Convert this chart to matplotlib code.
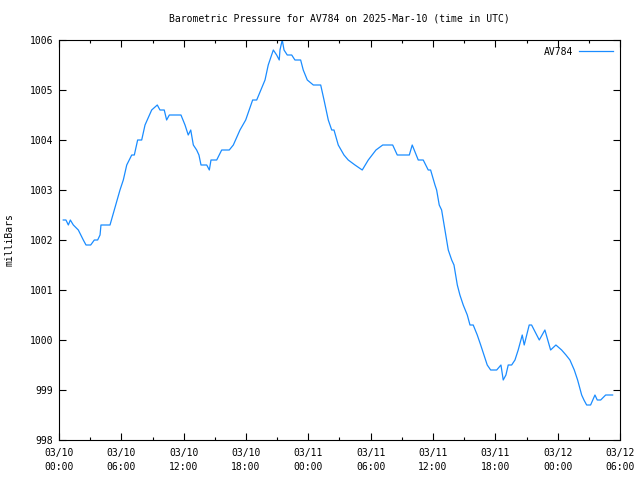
import matplotlib
matplotlib.use("Agg")
import matplotlib.pyplot as plt
from matplotlib.ticker import MultipleLocator

# hours since 2025-03-10 00:00 UTC
hours = [0.41, 0.67, 0.90, 1.09, 1.38, 1.86, 2.34, 2.60, 3.05, 3.40, 3.72, 3.95, 4.04, 4.91,
         5.32, 5.87, 6.19, 6.52, 7.00, 7.25, 7.57, 7.96, 8.28, 8.92, 9.46, 9.72, 10.13, 10.36,
         10.62, 11.74, 12.13, 12.44, 12.68, 12.93, 13.25, 13.47, 13.67, 14.22, 14.47, 14.63,
         15.18, 15.66, 16.39, 16.78, 17.42, 17.97, 18.64, 19.03, 19.83, 20.14, 20.63, 20.95,
         21.20, 21.27, 21.49, 21.66, 21.97, 22.40, 22.71, 23.26, 23.51, 23.90, 24.48, 25.19,
         25.51, 25.92, 26.25, 26.47, 26.88, 27.43, 27.84, 28.49, 29.19, 29.77, 30.51, 31.16,
         32.12, 32.56, 33.72, 34.00, 34.58, 35.06, 35.54, 35.77, 36.19, 36.35, 36.60, 36.83,
         37.15, 37.47, 37.80, 38.02, 38.34, 38.59, 38.91, 39.30, 39.56, 39.87, 40.26, 40.59,
         40.90, 41.22, 41.55, 42.13, 42.54, 42.76, 43.02, 43.24, 43.57, 43.89, 44.20, 44.59,
         44.78, 45.26, 45.49, 46.23, 46.77, 47.32, 47.83, 48.38, 48.80, 49.18, 49.60, 49.92,
         50.31, 50.53, 50.79, 51.17, 51.59, 51.81, 52.14, 52.62, 53.29]
pressure = [1002.4, 1002.4, 1002.3, 1002.4, 1002.3, 1002.2, 1002.0, 1001.9, 1001.9, 1002.0,
            1002.0, 1002.1, 1002.3, 1002.3, 1002.6, 1003.0, 1003.2, 1003.5, 1003.7, 1003.7,
            1004.0, 1004.0, 1004.3, 1004.6, 1004.7, 1004.6, 1004.6, 1004.4, 1004.5, 1004.5,
            1004.3, 1004.1, 1004.2, 1003.9, 1003.8, 1003.7, 1003.5, 1003.5, 1003.4, 1003.6,
            1003.6, 1003.8, 1003.8, 1003.9, 1004.2, 1004.4, 1004.8, 1004.8, 1005.2, 1005.5,
            1005.8, 1005.7, 1005.6, 1005.8, 1006.0, 1005.8, 1005.7, 1005.7, 1005.6, 1005.6,
            1005.4, 1005.2, 1005.1, 1005.1, 1004.8, 1004.4, 1004.2, 1004.2, 1003.9, 1003.7,
            1003.6, 1003.5, 1003.4, 1003.6, 1003.8, 1003.9, 1003.9, 1003.7, 1003.7, 1003.9,
            1003.6, 1003.6, 1003.4, 1003.4, 1003.1, 1003.0, 1002.7, 1002.6, 1002.2, 1001.8,
            1001.6, 1001.5, 1001.1, 1000.9, 1000.7, 1000.5, 1000.3, 1000.3, 1000.1, 999.9,
            999.7, 999.5, 999.4, 999.4, 999.5, 999.2, 999.3, 999.5, 999.5, 999.6, 999.8,
            1000.1, 999.9, 1000.3, 1000.3, 1000.0, 1000.2, 999.8, 999.9, 999.8, 999.7, 999.6,
            999.4, 999.2, 998.9, 998.8, 998.7, 998.7, 998.9, 998.8, 998.8, 998.9, 998.9]

tick_hours = [0, 6, 12, 18, 24, 30, 36, 42, 48, 54]
tick_labels = ["03/10\n00:00", "03/10\n06:00", "03/10\n12:00", "03/10\n18:00",
               "03/11\n00:00", "03/11\n06:00", "03/11\n12:00", "03/11\n18:00",
               "03/12\n00:00", "03/12\n06:00"]

plt.rcParams["font.family"] = "DejaVu Sans Mono"
plt.rcParams["font.size"] = 7

fig = plt.figure(figsize=(6.4, 4.8), dpi=100)
ax = fig.add_axes([59 / 640, 40 / 480, 561 / 640, 400 / 480])

ax.plot(hours, pressure, color="#1a8cff", linewidth=0.9, label="AV784")

ax.set_xlim(0, 54)
ax.set_ylim(998, 1006)
ax.set_xticks(tick_hours)
ax.set_xticklabels(tick_labels, linespacing=1.5)
ax.xaxis.set_minor_locator(MultipleLocator(3))
ax.yaxis.set_major_locator(MultipleLocator(1))
ax.tick_params(which="both", direction="in", top=True, right=True, width=0.8)
ax.tick_params(which="major", length=5)
ax.tick_params(axis="x", which="major", pad=6)
ax.tick_params(axis="y", which="major", pad=4)
ax.tick_params(which="minor", length=2.5)
for s in ax.spines.values():
    s.set_linewidth(0.8)

ax.set_title("Barometric Pressure for AV784 on 2025-Mar-10 (time in UTC)", fontsize=7, pad=13)
ax.set_ylabel("milliBars", labelpad=11)
ax.legend(loc="upper right", frameon=False, markerfirst=False, handlelength=3.5,
          borderaxespad=0.3, handletextpad=0.6)

fig.savefig("out.png", dpi=100)
